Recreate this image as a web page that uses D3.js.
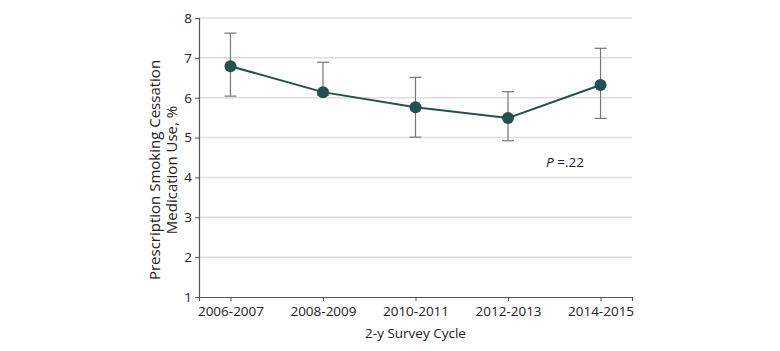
<!DOCTYPE html>
<html>
<head>
<meta charset="utf-8">
<script src="https://cdn.jsdelivr.net/npm/d3@7"></script>
<style>
  body { margin: 0; background: #fff; }
  svg { display: block; font-family: "Open Sans", sans-serif; }
</style>
</head>
<body>
<div id="chart"></div>
<script>
// Data
const cycles = ['2006-2007', '2008-2009', '2010-2011', '2012-2013', '2014-2015'];
const estimates = [6.79, 6.14, 5.76, 5.49, 6.32];
const lowerCI = [6.04, 6.06, 5.01, 4.92, 5.48];
const upperCI = [7.62, 6.89, 6.51, 6.15, 7.24];
const yTicks = [1, 2, 3, 4, 5, 6, 7, 8];

const width = 780;
const height = 351;
const margin = { top: 18, right: 148, bottom: 54, left: 199 };
const innerWidth = width - margin.left - margin.right;
const innerHeight = height - margin.top - margin.bottom;

const rows = cycles.map((c, i) => ({
  cycle: c, est: estimates[i], lo: lowerCI[i], hi: upperCI[i]
}));

const svg = d3.select('#chart')
  .append('svg')
  .attr('width', width)
  .attr('height', height);

const g = svg.append('g')
  .attr('transform', `translate(${margin.left},${margin.top})`);

const x = d3.scalePoint().domain(cycles).range([0, innerWidth]).padding(0.34);
const y = d3.scaleLinear().domain([1, 8]).range([innerHeight, 0]);

// gridlines
g.append('g')
  .selectAll('line')
  .data(yTicks.filter(d => d > 1))
  .join('line')
  .attr('x1', 0)
  .attr('x2', innerWidth)
  .attr('y1', d => y(d))
  .attr('y2', d => y(d))
  .attr('stroke', '#dedede')
  .attr('stroke-width', 1.5);

// axes
const yAxis = g.append('g')
  .call(d3.axisLeft(y).tickValues(yTicks).tickSize(4).tickPadding(3).tickFormat(d3.format('d')));
const xAxis = g.append('g')
  .attr('transform', `translate(0,${innerHeight})`)
  .call(d3.axisBottom(x).tickSize(4).tickPadding(5));

[yAxis, xAxis].forEach(a => {
  a.select('.domain').attr('stroke', '#555').attr('stroke-width', 1.2);
  a.selectAll('.tick line').attr('stroke', '#555');
  a.selectAll('.tick text')
    .attr('fill', '#222')
    .attr('font-size', 13.5)
    .attr('font-family', '"Open Sans", sans-serif');
});

// error bars
const capW = 6;
const err = g.append('g').attr('stroke', '#777').attr('stroke-width', 1.2);
err.selectAll('line.v')
  .data(rows)
  .join('line')
  .attr('class', 'v')
  .attr('x1', d => x(d.cycle))
  .attr('x2', d => x(d.cycle))
  .attr('y1', d => y(d.lo))
  .attr('y2', d => y(d.hi));
err.selectAll('line.top')
  .data(rows)
  .join('line')
  .attr('class', 'top')
  .attr('x1', d => x(d.cycle) - capW)
  .attr('x2', d => x(d.cycle) + capW)
  .attr('y1', d => y(d.hi))
  .attr('y2', d => y(d.hi));
err.selectAll('line.bot')
  .data(rows)
  .join('line')
  .attr('class', 'bot')
  .attr('x1', d => x(d.cycle) - capW)
  .attr('x2', d => x(d.cycle) + capW)
  .attr('y1', d => y(d.lo))
  .attr('y2', d => y(d.lo));

// trend line + points
const line = d3.line()
  .x(d => x(d.cycle))
  .y(d => y(d.est));

g.append('path')
  .datum(rows)
  .attr('fill', 'none')
  .attr('stroke', '#24504d')
  .attr('stroke-width', 2)
  .attr('d', line);

g.selectAll('circle')
  .data(rows)
  .join('circle')
  .attr('cx', d => x(d.cycle))
  .attr('cy', d => y(d.est))
  .attr('r', 6)
  .attr('fill', '#24504d');

// P value annotation
const pText = g.append('text')
  .attr('x', x('2012-2013') + 38)
  .attr('y', y(4.25))
  .attr('font-size', 13.5)
  .attr('fill', '#222');
pText.append('tspan').style('font-style', 'italic').text('P');
pText.append('tspan').text(' =.22');

// axis titles
const yTitle = svg.append('text')
  .attr('transform', `translate(160,170) rotate(-90)`)
  .attr('text-anchor', 'middle')
  .attr('font-size', 15)
  .attr('fill', '#222');
yTitle.append('tspan').attr('x', 0).attr('dy', 0).text('Prescription Smoking Cessation');
yTitle.append('tspan').attr('x', 0).attr('dy', 17).text('Medication Use, %');

svg.append('text')
  .attr('x', margin.left + x('2010-2011'))
  .attr('y', margin.top + innerHeight + 41)
  .attr('text-anchor', 'middle')
  .attr('font-size', 13.5)
  .attr('fill', '#222')
  .text('2-y Survey Cycle');
</script>
</body>
</html>
